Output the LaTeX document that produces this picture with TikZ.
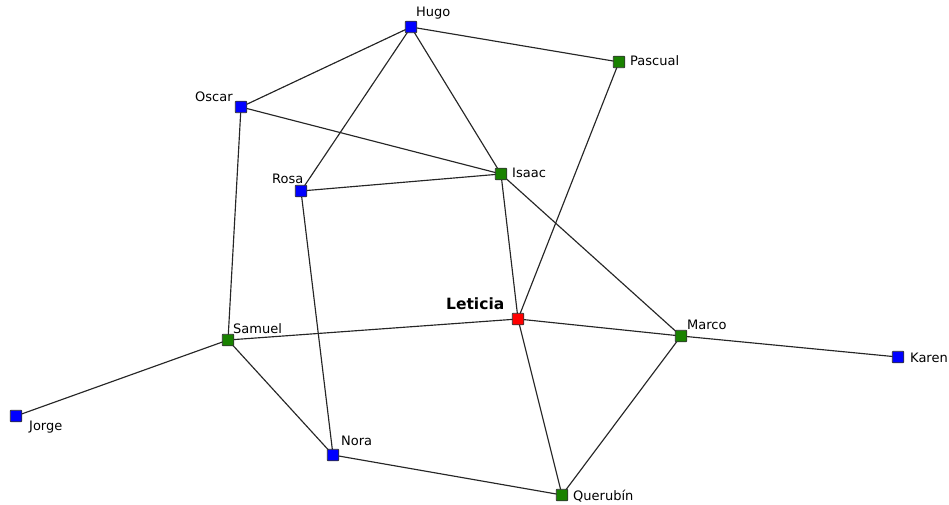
\documentclass[tikz,border=0pt]{standalone}
\usepackage{fontspec}
\setmainfont{DejaVu Sans}
\definecolor{nblue}{RGB}{0,0,255}
\definecolor{ngreen}{RGB}{25,130,0}
\definecolor{nred}{RGB}{255,0,0}
\begin{document}
\begin{tikzpicture}[x=1pt,y=-1pt,
  vert/.style={draw=black!80,line width=0.8pt,minimum size=11.5pt,inner sep=0pt,rounded corners=0.8pt},
  bv/.style={vert,fill=nblue},
  gv/.style={vert,fill=ngreen},
  rv/.style={vert,fill=nred},
  lbl/.style={anchor=base west,inner sep=0pt,font=\fontsize{13}{15}\selectfont},
  edge/.style={line width=1.15pt,black!85}]
\useasboundingbox (0,0) rectangle (949,505);
\coordinate (hugoP) at (411,27);
\coordinate (pascualP) at (619,62);
\coordinate (oscarP) at (241,107);
\coordinate (isaacP) at (501,174);
\coordinate (rosaP) at (301,191);
\coordinate (leticiaP) at (518,319);
\coordinate (samuelP) at (228,340);
\coordinate (marcoP) at (681,336);
\coordinate (karenP) at (898,357);
\coordinate (jorgeP) at (16,416);
\coordinate (noraP) at (333,455);
\coordinate (querubinP) at (562,495);
% edges
\draw[edge] (hugoP) -- (pascualP);
\draw[edge] (hugoP) -- (oscarP);
\draw[edge] (hugoP) -- (rosaP);
\draw[edge] (hugoP) -- (isaacP);
\draw[edge] (oscarP) -- (isaacP);
\draw[edge] (oscarP) -- (samuelP);
\draw[edge] (rosaP) -- (isaacP);
\draw[edge] (rosaP) -- (noraP);
\draw[edge] (isaacP) -- (leticiaP);
\draw[edge] (isaacP) -- (marcoP);
\draw[edge] (pascualP) -- (leticiaP);
\draw[edge] (samuelP) -- (leticiaP);
\draw[edge] (samuelP) -- (jorgeP);
\draw[edge] (samuelP) -- (noraP);
\draw[edge] (leticiaP) -- (marcoP);
\draw[edge] (leticiaP) -- (querubinP);
\draw[edge] (marcoP) -- (karenP);
\draw[edge] (marcoP) -- (querubinP);
\draw[edge] (noraP) -- (querubinP);
% vertices
\node[bv] (hugo) at (hugoP) {};
\node[gv] (pascual) at (pascualP) {};
\node[bv] (oscar) at (oscarP) {};
\node[gv] (isaac) at (isaacP) {};
\node[bv] (rosa) at (rosaP) {};
\node[rv] (leticia) at (leticiaP) {};
\node[gv] (samuel) at (samuelP) {};
\node[gv] (marco) at (marcoP) {};
\node[bv] (karen) at (karenP) {};
\node[bv] (jorge) at (jorgeP) {};
\node[bv] (nora) at (noraP) {};
\node[gv] (querubin) at (querubinP) {};
% labels
\node[lbl] (lhugo) at (416,17) {Hugo};
\node[lbl] (lpascual) at (630,66) {Pascual};
\node[lbl] (loscar) at (195,102) {Oscar};
\node[lbl] (lisaac) at (512,178) {Isaac};
\node[lbl] (lrosa) at (272,183) {Rosa};
\node[lbl,font=\fontsize{15.5}{18}\selectfont\bfseries] (lleticia) at (446,309) {Leticia};
\node[lbl] (lsamuel) at (233,333) {Samuel};
\node[lbl] (lmarco) at (687,329) {Marco};
\node[lbl] (lkaren) at (910,362) {Karen};
\node[lbl] (ljorge) at (29,430) {Jorge};
\node[lbl] (lnora) at (341,445) {Nora};
\node[lbl] (lquerubin) at (573,500) {Querubín};
\end{tikzpicture}
\end{document}
